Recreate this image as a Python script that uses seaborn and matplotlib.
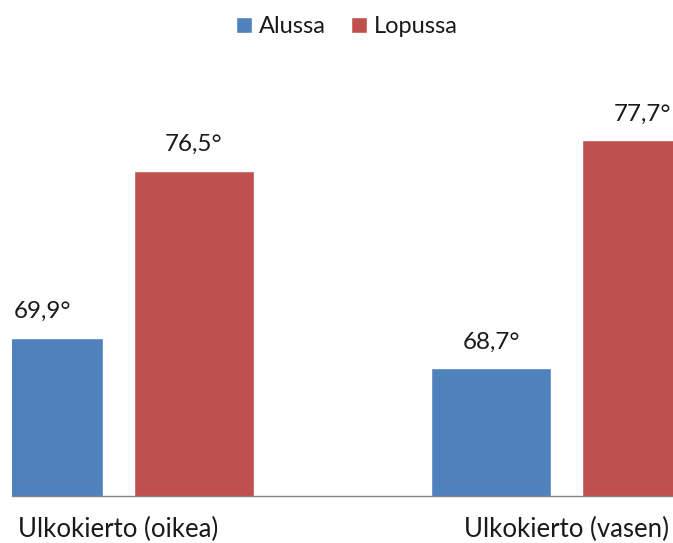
import pandas as pd
import seaborn as sns
import matplotlib.pyplot as plt

sns.set_theme(style="white")
plt.rcParams['font.family'] = ['Lato', 'DejaVu Sans']

categories = ['Ulkokierto (oikea)', 'Ulkokierto (vasen)']
series = ['Alussa', 'Lopussa']
alussa = [69.9, 68.7]
lopussa = [76.5, 77.7]
value_labels = [['69,9°', '68,7°'], ['76,5°', '77,7°']]

df = pd.DataFrame({
    'kierto': categories * 2,
    'aika': [series[0]] * 2 + [series[1]] * 2,
    'arvo': alussa + lopussa,
})

fig = plt.figure(figsize=(6.73, 5.43), dpi=100)
ax = fig.add_axes([12 / 673, 47 / 543, 661 / 673, 436 / 543])

sns.barplot(data=df, x='kierto', y='arvo', hue='aika', order=categories,
            hue_order=series, palette=['#4F81BD', '#C0504D'], saturation=1,
            width=0.673, gap=0.205, ax=ax, legend=True)

ax.set_ylim(63.65, 80.87)
ax.set_xlim(-0.237, 1.237)

for cont, labels in zip(ax.containers, value_labels):
    for bar, lab in zip(cont, labels):
        ax.annotate(lab, (bar.get_x() + bar.get_width() / 2, bar.get_height()),
                    xytext=(0, 14), textcoords='offset points',
                    ha='center', va='baseline', fontsize=17.5, color='#1a1a1a')

ax.set_xlabel('')
ax.set_ylabel('')
ax.set_yticks([])
ax.tick_params(axis='x', length=0, pad=15, labelsize=18.5, labelcolor='#1a1a1a')
for s in ['top', 'left', 'right']:
    ax.spines[s].set_visible(False)
ax.spines['bottom'].set_color('#868686')
ax.spines['bottom'].set_linewidth(1)

handles, labels = ax.get_legend_handles_labels()
ax.get_legend().remove()
fig.legend(handles, labels, loc='center', bbox_to_anchor=(0.5156, 0.951),
           ncol=2, frameon=False, fontsize=17, handlelength=0.66,
           handleheight=0.66, handletextpad=0.3, columnspacing=1.1,
           labelcolor='#1a1a1a')

fig.savefig('out.png', dpi=100)
